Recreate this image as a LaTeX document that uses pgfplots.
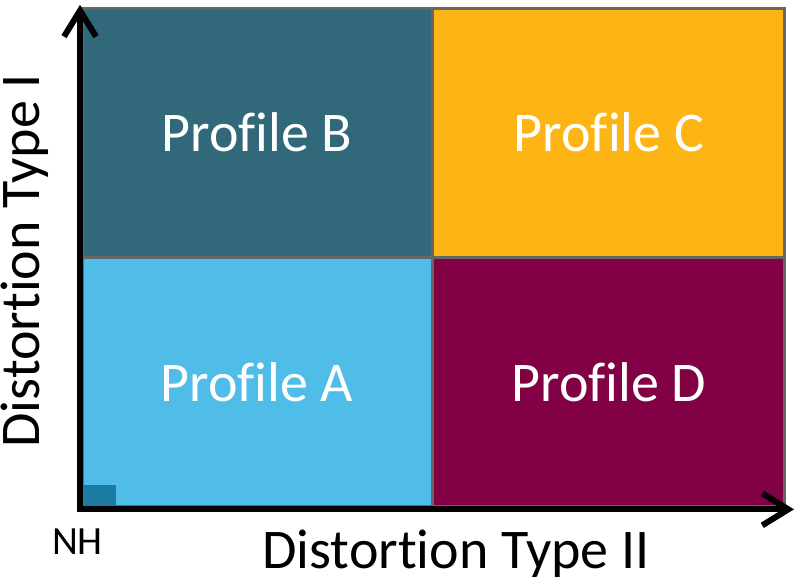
\documentclass[border=0pt]{standalone}
\usepackage{pgfplots}
\pgfplotsset{compat=1.18}
\usetikzlibrary{arrows.meta}
\usepackage{fontspec}
\setmainfont{Carlito}[Ligatures={NoCommon,NoContextual}]
\definecolor{colA}{HTML}{50BDE8}
\definecolor{colB}{HTML}{32697A}
\definecolor{colC}{HTML}{FDB515}
\definecolor{colD}{HTML}{820044}
\definecolor{colNH}{HTML}{1B7BA0}
\definecolor{edge}{HTML}{666666}
\begin{document}
\begin{tikzpicture}
\begin{axis}[
  x=0.5pt, y=0.5pt,
  xmin=80, xmax=794, ymin=75.5, ymax=580,
  axis lines=left,
  axis line style={line width=3pt, line cap=rect, -{Straight Barb[length=13pt,width=16pt]}},
  xtick=\empty, ytick=\empty,
  clip=false, axis on top,
]
% quadrants
\addplot[fill=colA, draw=edge, line width=1.5pt, mark=none] coordinates {(83,78) (433,78) (433,327) (83,327)} -- cycle;
\addplot[fill=colB, draw=edge, line width=1.5pt, mark=none] coordinates {(83,327) (433,327) (433,576) (83,576)} -- cycle;
\addplot[fill=colC, draw=edge, line width=1.5pt, mark=none] coordinates {(433,327) (785,327) (785,576) (433,576)} -- cycle;
\addplot[fill=colD, draw=edge, line width=1.5pt, mark=none] coordinates {(433,78) (785,78) (785,327) (433,327)} -- cycle;
% NH square
\addplot[fill=colNH, draw=none, mark=none] coordinates {(83,79) (116,79) (116,100) (83,100)} -- cycle;
% labels
\node[anchor=base, text=white, font=\fontsize{28pt}{32pt}\selectfont] at (axis cs:257,433) {Profile B};
\node[anchor=base, text=white, font=\fontsize{28pt}{32pt}\selectfont] at (axis cs:609,433) {Profile C};
\node[anchor=base, text=white, font=\fontsize{28pt}{32pt}\selectfont] at (axis cs:257,183) {Profile A};
\node[anchor=base, text=white, font=\fontsize{28pt}{32pt}\selectfont] at (axis cs:609,183) {Profile D};
\node[anchor=base, inner sep=0pt, font=\fontsize{28pt}{32pt}\selectfont] at (axis cs:456,16) {Distortion Type II};
\node[anchor=base, inner sep=0pt, rotate=90, font=\fontsize{28pt}{32pt}\selectfont] at (axis cs:40,324) {Distortion Type I};
\node[anchor=base, inner sep=0pt, font=\fontsize{20pt}{24pt}\selectfont] at (axis cs:77.5,30) {NH};
\path (axis cs:0,0) rectangle (axis cs:800,584);
\end{axis}
\end{tikzpicture}
\end{document}
